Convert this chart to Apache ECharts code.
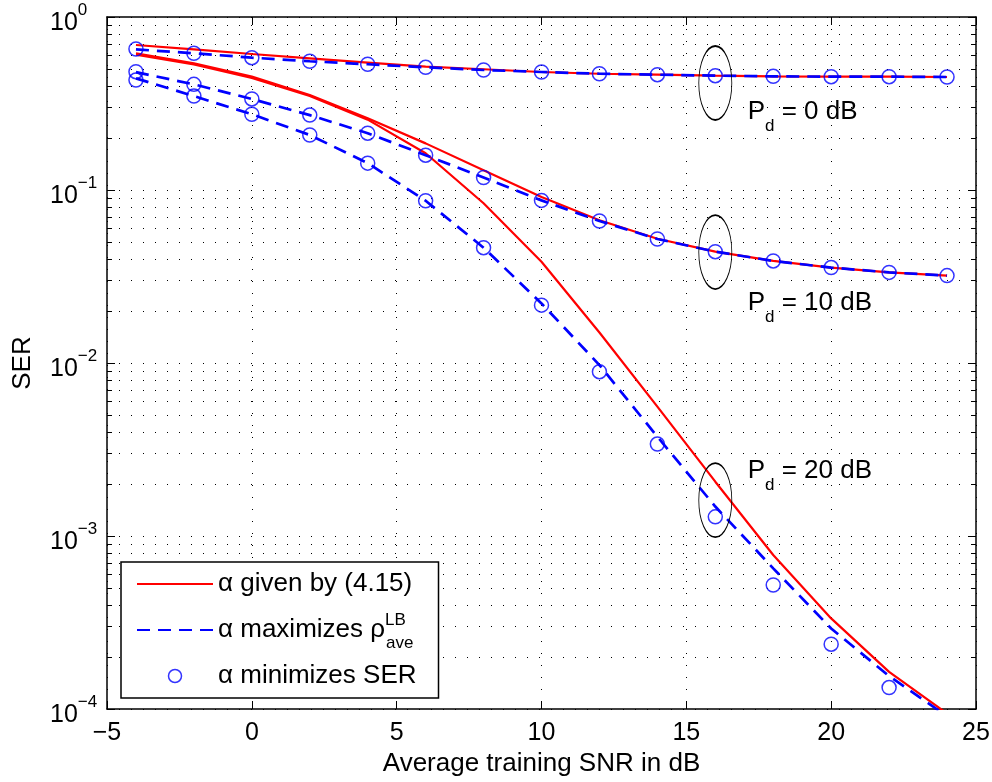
<!DOCTYPE html>
<html lang="en" style="height: 100%">
<head>
  <meta charset="utf-8">
</head>
<body style="height: 100%; margin: 0">
  <div id="container" style="width: 992px; height: 782px"></div>

  <script type="text/javascript" src="https://fastly.jsdelivr.net/npm/echarts@6.0.0/dist/echarts.min.js"></script>
  <script type="text/javascript">
    // average training SNR in dB
    var snr = [-4, -2, 0, 2, 4, 6, 8, 10, 12, 14, 16, 18, 20, 22, 24];

    // Pd = 0 dB
    var given0 = [0.689, 0.650, 0.611, 0.577, 0.545, 0.516, 0.499, 0.481, 0.470, 0.464, 0.458, 0.454, 0.452, 0.452, 0.450];
    var maxRho0 = [0.650, 0.617, 0.582, 0.555, 0.533, 0.512, 0.494, 0.481, 0.470, 0.464, 0.458, 0.454, 0.452, 0.452, 0.450];
    var minSer0 = [0.653, 0.617, 0.582, 0.555, 0.533, 0.512, 0.494, 0.481, 0.470, 0.464, 0.458, 0.454, 0.452, 0.452, 0.450];

    // Pd = 10 dB
    var given10 = [0.617, 0.540, 0.452, 0.354, 0.260, 0.186, 0.130, 0.0910, 0.0668, 0.0523, 0.0440, 0.0389, 0.0356, 0.0334, 0.0320];
    var maxRho10 = [0.480, 0.408, 0.336, 0.271, 0.213, 0.159, 0.118, 0.0871, 0.0662, 0.0521, 0.0440, 0.0389, 0.0356, 0.0334, 0.0320];
    var minSer10 = [0.483, 0.408, 0.336, 0.271, 0.213, 0.159, 0.118, 0.0871, 0.0662, 0.0521, 0.0440, 0.0389, 0.0356, 0.0334, 0.0320];

    // Pd = 20 dB
    var given20 = [0.605, 0.532, 0.445, 0.350, 0.255, 0.163, 0.0838, 0.0385, 0.0150, 0.00559, 0.00206, 0.000776, 0.000334, 0.000164, 0.0000942];
    var maxRho20 = [0.442, 0.349, 0.274, 0.208, 0.143, 0.0867, 0.0464, 0.0221, 0.00973, 0.00375, 0.00148, 0.00065, 0.000292, 0.000155, 0.0000908];
    var minSer20 = [0.432, 0.349, 0.274, 0.208, 0.143, 0.0867, 0.0464, 0.0216, 0.00891, 0.0034, 0.00129, 0.000521, 0.000237, 0.000133];

    var decades = [-4, -3, -2, -1];
    var names = ['α given by (4.15)', 'α maximizes ρ', 'α minimizes SER'];

    // Pd annotations: ellipse centre and label anchor (data coords)
    var notes = [
      { pd: '0', ellipse: [16, 0.4155], label: [17.1, 0.264] },
      { pd: '10', ellipse: [16, 0.0438], label: [17.1, 0.0208] },
      { pd: '20', ellipse: [16, 0.00161], label: [17.1, 0.00224] }
    ];

    var FONT = 'Liberation Sans, Arial, Helvetica, sans-serif';
    var RED = '#ff0000';
    var BLUE = '#0000ff';

    function pairs(ys) {
      var out = [];
      for (var i = 0; i < ys.length; i++) out.push([snr[i], ys[i]]);
      return out;
    }

    // minor log ticks 2..9 in each decade
    var minorValues = [];
    decades.forEach(function (d) {
      for (var m = 2; m <= 9; m++) minorValues.push([0, m * Math.pow(10, d)]);
    });

    function minus(v) {
      return v < 0 ? '\u2212' + (-v) : String(v);
    }

    var dom = document.getElementById('container');
    var myChart = echarts.init(dom, null, { renderer: 'canvas' });

    var redLine = { color: RED, width: 2.2 };
    var blueLine = { color: BLUE, width: 2.7, type: [13, 8] };
    var circleStyle = { color: 'rgba(0,0,0,0)', borderColor: BLUE, borderWidth: 1.5 };

    function lineSeries(name, ys, style, z) {
      return {
        type: 'line', name: name, data: pairs(ys), symbol: 'none',
        lineStyle: style, itemStyle: { color: style.color }, z: z, silent: true
      };
    }
    function circleSeries(ys) {
      return {
        type: 'scatter', name: names[2], data: pairs(ys), symbol: 'circle',
        symbolSize: 14, itemStyle: circleStyle, z: 5, silent: true
      };
    }

    var markData = [];
    notes.forEach(function (n) {
      markData.push({
        coord: n.ellipse,
        symbol: 'path://M0,1A1,1,0,1,1,2,1A1,1,0,1,1,0,1Z',
        symbolSize: [33, 74],
        itemStyle: { color: 'rgba(0,0,0,0)', borderColor: '#000', borderWidth: 1.2 },
        label: { show: false }
      });
      markData.push({
        coord: n.label,
        symbol: 'rect', symbolSize: 1,
        itemStyle: { color: 'rgba(0,0,0,0)' },
        label: {
          show: true, position: 'right', distance: 0,
          formatter: '{p|P}{d|d}{p| = ' + n.pd + ' dB}',
          rich: {
            p: { fontSize: 26, fontFamily: FONT, color: '#000', verticalAlign: 'top' },
            d: { fontSize: 17, fontFamily: FONT, color: '#000', verticalAlign: 'bottom', lineHeight: 36 }
          }
        }
      });
    });

    var option = {
      animation: false,
      backgroundColor: '#fff',
      grid: { left: 107, right: 16, top: 17, bottom: 73, outerBoundsMode: 'none' },
      legend: {
        orient: 'vertical', left: 121, top: 562,
        padding: [0, 22, 0, 15], itemGap: 2,
        itemWidth: 76, itemHeight: 13,
        backgroundColor: '#fff', borderColor: '#000', borderWidth: 1.5,
        selectedMode: false,
        data: [
          { name: names[0], itemStyle: { opacity: 0 } },
          { name: names[1], itemStyle: { opacity: 0 } },
          { name: names[2], icon: 'circle', itemStyle: circleStyle }
        ],
        formatter: function (name) {
          if (name === names[1]) return '{t|' + name + '}{sup|LB}{sub|ave}';
          return '{t|' + name + '}';
        },
        textStyle: {
          fontSize: 26, fontFamily: FONT, color: '#000', lineHeight: 44,
          rich: {
            t: { fontSize: 26, fontFamily: FONT, color: '#000', lineHeight: 44 },
            sup: { fontSize: 17, fontFamily: FONT, color: '#000', verticalAlign: 'top', padding: [4, 0, 0, 0], width: 1 },
            sub: { fontSize: 17, fontFamily: FONT, color: '#000', verticalAlign: 'bottom' }
          }
        }
      },
      xAxis: [{
        type: 'value', min: -5, max: 25, interval: 5,
        name: 'Average training SNR in dB', nameLocation: 'middle', nameGap: 40,
        nameTextStyle: { fontSize: 26, fontFamily: FONT, color: '#000' },
        axisLine: { onZero: false, lineStyle: { color: '#000', width: 1.5 } },
        axisTick: { inside: true, length: 8, lineStyle: { color: '#000' } },
        axisLabel: { fontSize: 25, fontFamily: FONT, color: '#000', margin: 12, formatter: minus },
        splitLine: { show: true, lineStyle: { color: '#000', width: 1, type: [1, 11] } }
      }, {
        type: 'value', position: 'top', min: -5, max: 25, interval: 5,
        axisLine: { onZero: false, lineStyle: { color: '#000', width: 1.5 } },
        axisTick: { inside: true, length: 8, lineStyle: { color: '#000' } },
        axisLabel: { show: false }, splitLine: { show: false }
      }],
      yAxis: [{
        type: 'log', logBase: 10, min: 1e-4, max: 1, position: 'left',
        name: 'SER', nameLocation: 'middle', nameGap: 71,
        nameTextStyle: { fontSize: 26, fontFamily: FONT, color: '#000' },
        axisLine: { onZero: false, lineStyle: { color: '#000', width: 1.5 } },
        axisTick: { inside: true, length: 8, lineStyle: { color: '#000' } },
        axisLabel: {
          align: 'left', margin: 57,
          formatter: function (v) {
            var e = Math.round(Math.log10(v));
            return '{b|10}{s|' + minus(e) + '}';
          },
          rich: {
            b: { fontSize: 25, fontFamily: FONT, color: '#000', lineHeight: 38, verticalAlign: 'bottom' },
            s: { fontSize: 17, fontFamily: FONT, color: '#000', verticalAlign: 'top', padding: [4, 0, 0, 0] }
          }
        },
        splitLine: { show: true, lineStyle: { color: '#000', width: 1, type: [1, 11] } }
      }, {
        type: 'log', logBase: 10, min: 1e-4, max: 1, position: 'right',
        axisLine: { onZero: false, lineStyle: { color: '#000', width: 1.5 } },
        axisTick: { inside: true, length: 8, lineStyle: { color: '#000' } },
        axisLabel: { show: false }, splitLine: { show: false }
      }],
      series: [
        {
          type: 'custom', silent: true, z: 1, data: minorValues,
          renderItem: function (params, api) {
            var cs = params.coordSys;
            var y = Math.round(api.coord([0, api.value(1)])[1]) + 0.5;
            var x0 = cs.x, x1 = cs.x + cs.width;
            return {
              type: 'group',
              children: [
                { type: 'line', shape: { x1: x0, y1: y, x2: x1, y2: y }, style: { stroke: '#000', lineWidth: 1, lineDash: [1, 11] } },
                { type: 'line', shape: { x1: x0, y1: y, x2: x0 + 5, y2: y }, style: { stroke: '#000', lineWidth: 1 } },
                { type: 'line', shape: { x1: x1 - 5, y1: y, x2: x1, y2: y }, style: { stroke: '#000', lineWidth: 1 } }
              ]
            };
          }
        },
        lineSeries(names[0], given0, redLine, 3),
        lineSeries(names[0], given10, redLine, 3),
        lineSeries(names[0], given20, redLine, 3),
        lineSeries(names[1], maxRho0, blueLine, 4),
        lineSeries(names[1], maxRho10, blueLine, 4),
        lineSeries(names[1], maxRho20, blueLine, 4),
        circleSeries(minSer0),
        circleSeries(minSer10),
        circleSeries(minSer20),
        {
          type: 'line', name: 'notes', data: [], silent: true, z: 6,
          markPoint: { silent: true, data: markData }
        }
      ]
    };

    myChart.setOption(option);
    window.addEventListener('resize', myChart.resize);
  </script>
</body>
</html>
